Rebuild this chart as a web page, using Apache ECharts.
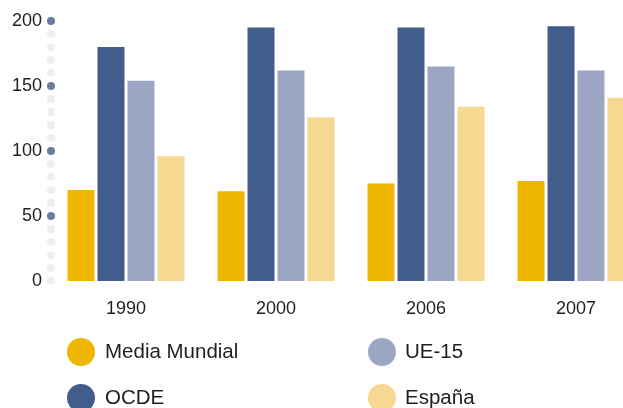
<!DOCTYPE html>
<html>
<head>
<meta charset="utf-8">
<script src="https://cdn.jsdelivr.net/npm/echarts@6/dist/echarts.min.js"></script>
<style>
html,body{margin:0;padding:0;background:#fff;}
#chart{width:623px;height:408px;}
</style>
</head>
<body>
<div id="chart"></div>
<script>
const categories = ['1990', '2000', '2006', '2007'];
const mediaMundial = [70, 69, 75, 77];
const ocde = [180, 195, 195, 196];
const ue15 = [154, 162, 165, 162];
const espana = [96, 126, 134, 141];
const yTicks = [0, 50, 100, 150, 200];
const seriesNames = ['Media Mundial', 'OCDE', 'UE-15', 'España'];
const colors = ['#EEB600', '#415D8B', '#9CA6C2', '#F6D890'];

// decorative axis dots every 10 units
const dotValues = [];
for (let v = 0; v <= 200; v += 10) dotValues.push(v);

const FONT = 'Liberation Sans, Arial, sans-serif';
const chart = echarts.init(document.getElementById('chart'), null, {renderer: 'canvas'});

const barSeries = [mediaMundial, ocde, ue15, espana].map((d, i) => ({
  name: seriesNames[i],
  type: 'bar',
  data: d,
  barWidth: 27,
  barGap: '11.1%',
  itemStyle: {color: colors[i]},
  xAxisIndex: 0,
  yAxisIndex: 0
}));

const legendPos = [
  {left: 67, top: 338},
  {left: 67, top: 384},
  {left: 368, top: 338},
  {left: 368, top: 384}
];
const legends = seriesNames.map((n, i) => ({
  data: [n],
  orient: 'horizontal',
  left: legendPos[i].left,
  top: legendPos[i].top,
  padding: 0,
  icon: 'circle',
  itemWidth: 28, itemHeight: 28,
  selectedMode: false,
  textStyle: {fontSize: 20.5, color: '#1e1e1e', fontFamily: FONT, padding: [0, 0, 0, i < 2 ? 5 : 4]}
}));

chart.setOption({
  animation: false,
  backgroundColor: '#fff',
  grid: {left: 51, top: 21, bottom: 127, right: -28, containLabel: false, outerBoundsMode: 'none'},
  xAxis: [{
    type: 'category',
    data: categories,
    axisLine: {show: false},
    axisTick: {show: false},
    axisLabel: {fontSize: 18, color: '#222', fontFamily: FONT, margin: 19}
  }, {
    type: 'value', min: 0, max: 1, show: false
  }],
  yAxis: {
    type: 'value',
    min: 0, max: 200, interval: 50,
    axisLine: {show: false},
    axisTick: {show: false},
    splitLine: {show: false},
    axisLabel: {fontSize: 18, color: '#222', fontFamily: FONT, margin: 9}
  },
  legend: legends,
  series: barSeries.concat([{
    name: 'axisDots',
    type: 'scatter',
    xAxisIndex: 1,
    yAxisIndex: 0,
    clip: false,
    symbol: 'circle',
    symbolSize: 8,
    silent: true,
    data: dotValues.map(v => ({
      value: [0, v],
      itemStyle: {color: (v > 0 && v % 50 === 0) ? '#415D8B' : '#EBEBEB'}
    }))
  }])
});
</script>
</body>
</html>
